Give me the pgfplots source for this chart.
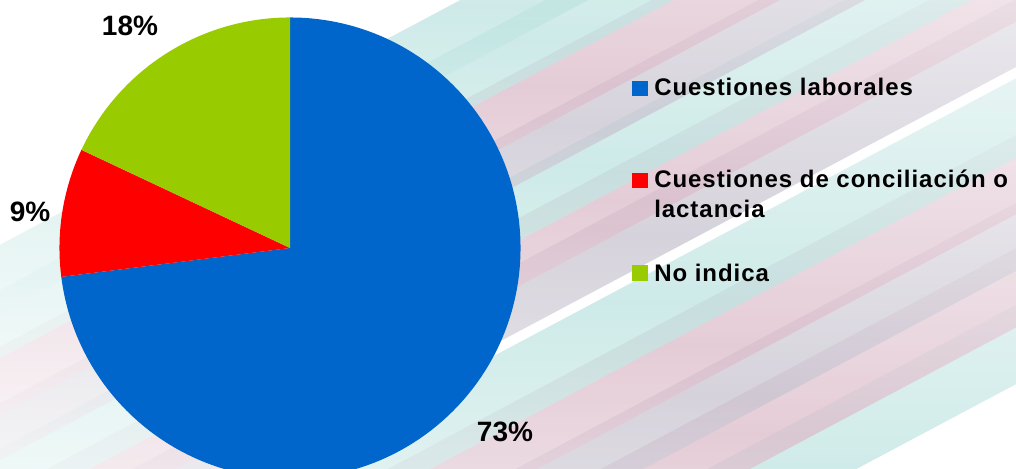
\documentclass[border=0pt]{standalone}
\usepackage{pgfplots}
\usepackage{pgfplotstable}
\pgfplotsset{compat=1.18}
\usepackage{fontspec}
\setmainfont{Liberation Sans}
\newfontfamily\legfont[LetterSpace=4]{Liberation Sans}

\definecolor{pblue}{RGB}{0,102,204}
\definecolor{pred}{RGB}{255,0,0}
\definecolor{pgreen}{RGB}{153,204,0}
\definecolor{bgteal}{RGB}{190,228,225}
\definecolor{bgpink}{RGB}{220,188,202}
\definecolor{bggray}{RGB}{200,196,208}

% share of each answer, clockwise from the top
\pgfplotstableread{
value color
73 pblue
9 pred
18 pgreen
}\piedata

\begin{document}
\begin{tikzpicture}[x=0.75pt,y=0.75pt]
\useasboundingbox (0,0) rectangle (1016,468);
\clip (0,0) rectangle (1016,468);
\fill[white] (0,0) rectangle (1016,468);

% streaky backdrop, soft bands
\begin{scope}[shift={(658,188)},rotate=28]
  \foreach \ya/\yb/\c in {-260/-190/bgteal,-210/-140/bgpink,-160/-100/bggray,
      -110/-40/bgpink,-60/10/bgteal,20/80/bggray,60/120/bgpink,
      100/160/bgteal,150/200/bggray,190/250/bgpink,240/300/bgteal,
      280/340/bgteal}{
    \shade[top color=white, bottom color=white, middle color=\c, opacity=0.75]
      (-900,\ya) rectangle (900,\yb);
  }
\end{scope}

\begin{axis}[
    at={(0,0)}, anchor=south west,
    scale only axis,
    width=762pt, height=351pt,
    xmin=0, xmax=1016, ymin=0, ymax=468,
    hide axis,
]
\pgfplotstablegetrowsof{\piedata}
\pgfmathtruncatemacro\nrows{\pgfplotsretval-1}
\def\curang{90}
\pgfplotsforeachungrouped \i in {0,...,\nrows}{
  \pgfplotstablegetelem{\i}{value}\of\piedata \let\v\pgfplotsretval
  \pgfplotstablegetelem{\i}{color}\of\piedata \let\c\pgfplotsretval
  \pgfmathsetmacro\nextang{\curang-3.6*\v}
  \edef\temp{\noexpand\fill[\c] (axis cs:290,220) -- ++(\curang:172.9pt)
    arc[start angle=\curang, end angle=\nextang, radius=172.9pt] -- cycle;}
  \temp
  \let\curang\nextang
}

% slice labels
\node[anchor=base, font=\fontsize{21}{25}\selectfont\bfseries] at (axis cs:130,432) {18\%};
\node[anchor=base, font=\fontsize{21}{25}\selectfont\bfseries] at (axis cs:30,246) {9\%};
\node[anchor=base, font=\fontsize{21}{25}\selectfont\bfseries] at (axis cs:505,27) {73\%};

% legend
\fill[pblue]  (axis cs:632,372) rectangle (axis cs:648,387);
\fill[pred]   (axis cs:632,280) rectangle (axis cs:648,295);
\fill[pgreen] (axis cs:632,187) rectangle (axis cs:648,203);
\node[anchor=base west, inner sep=0pt, font=\legfont\fontsize{18}{22.5}\selectfont\bfseries]
  at (axis cs:654,372) {Cuestiones laborales};
\node[anchor=base west, inner sep=0pt, font=\legfont\fontsize{18}{22.5}\selectfont\bfseries]
  at (axis cs:654,280) {Cuestiones de conciliación o};
\node[anchor=base west, inner sep=0pt, font=\legfont\fontsize{18}{22.5}\selectfont\bfseries]
  at (axis cs:654,250) {lactancia};
\node[anchor=base west, inner sep=0pt, font=\legfont\fontsize{18}{22.5}\selectfont\bfseries]
  at (axis cs:654,187) {No indica};
\end{axis}
\end{tikzpicture}
\end{document}
